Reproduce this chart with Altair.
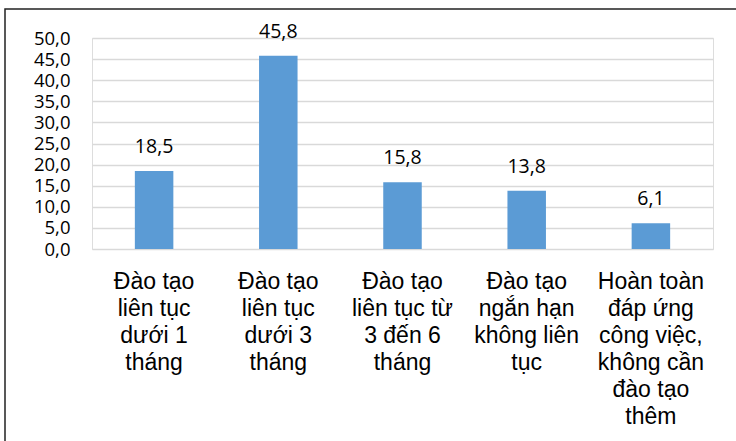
import altair as alt
import pandas as pd

categories = [
    "Đào tạo|liên tục|dưới 1|tháng",
    "Đào tạo|liên tục|dưới 3|tháng",
    "Đào tạo|liên tục từ|3 đến 6|tháng",
    "Đào tạo|ngắn hạn|không liên|tục",
    "Hoàn toàn|đáp ứng|công việc,|không cần|đào tạo|thêm",
]
values = [18.5, 45.8, 15.8, 13.8, 6.1]
labels = ["18,5", "45,8", "15,8", "13,8", "6,1"]

df = pd.DataFrame({"cat": categories, "val": values, "lbl": labels})

x = alt.X("cat:N", sort=categories, title=None,
          scale=alt.Scale(paddingInner=0.69, paddingOuter=0.345),
          axis=alt.Axis(labelExpr="split(datum.label, '|')", labelAngle=0,
                        labelFont="Liberation Sans", labelFontSize=23,
                        labelColor="#000000", labelLineHeight=27,
                        labelPadding=21, domain=False, ticks=False,
                        labelBaseline="top", labelLimit=200))
y = alt.Y("val:Q", title=None,
          scale=alt.Scale(domain=[0, 50], nice=False),
          axis=alt.Axis(values=list(range(0, 55, 5)),
                        labelExpr="replace(format(datum.value, '.1f'), '.', ',')",
                        labelFont="Open Sans", labelFontSize=18.5, labelColor="#000000",
                        labelPadding=22, domain=False, ticks=False,
                        gridColor="#d9d9d9", gridWidth=1.5))

base = alt.Chart(df)
bars = base.mark_bar(color="#5b9bd5").encode(x=x, y=y)
text = base.mark_text(baseline="alphabetic", dy=-18, font="Open Sans", fontSize=19.5,
                      color="#000000").encode(x=x, y=y, text="lbl:N")

border = alt.Chart(pd.DataFrame({"a": [0]})).mark_rect(
    fill=None, stroke="#222222", strokeWidth=1.5
).encode(x=alt.value(-87), x2=alt.value(660), y=alt.value(-29), y2=alt.value(420))

chart = alt.layer(bars, text, border).properties(
    width=621, height=211,
    autosize=alt.AutoSizeParams(type="none"),
    padding={"left": 92, "top": 38, "right": 23, "bottom": 192},
).configure_view(stroke=None).configure(background="white")

chart.save("out.html", embed_options={"renderer": "svg", "actions": False})
